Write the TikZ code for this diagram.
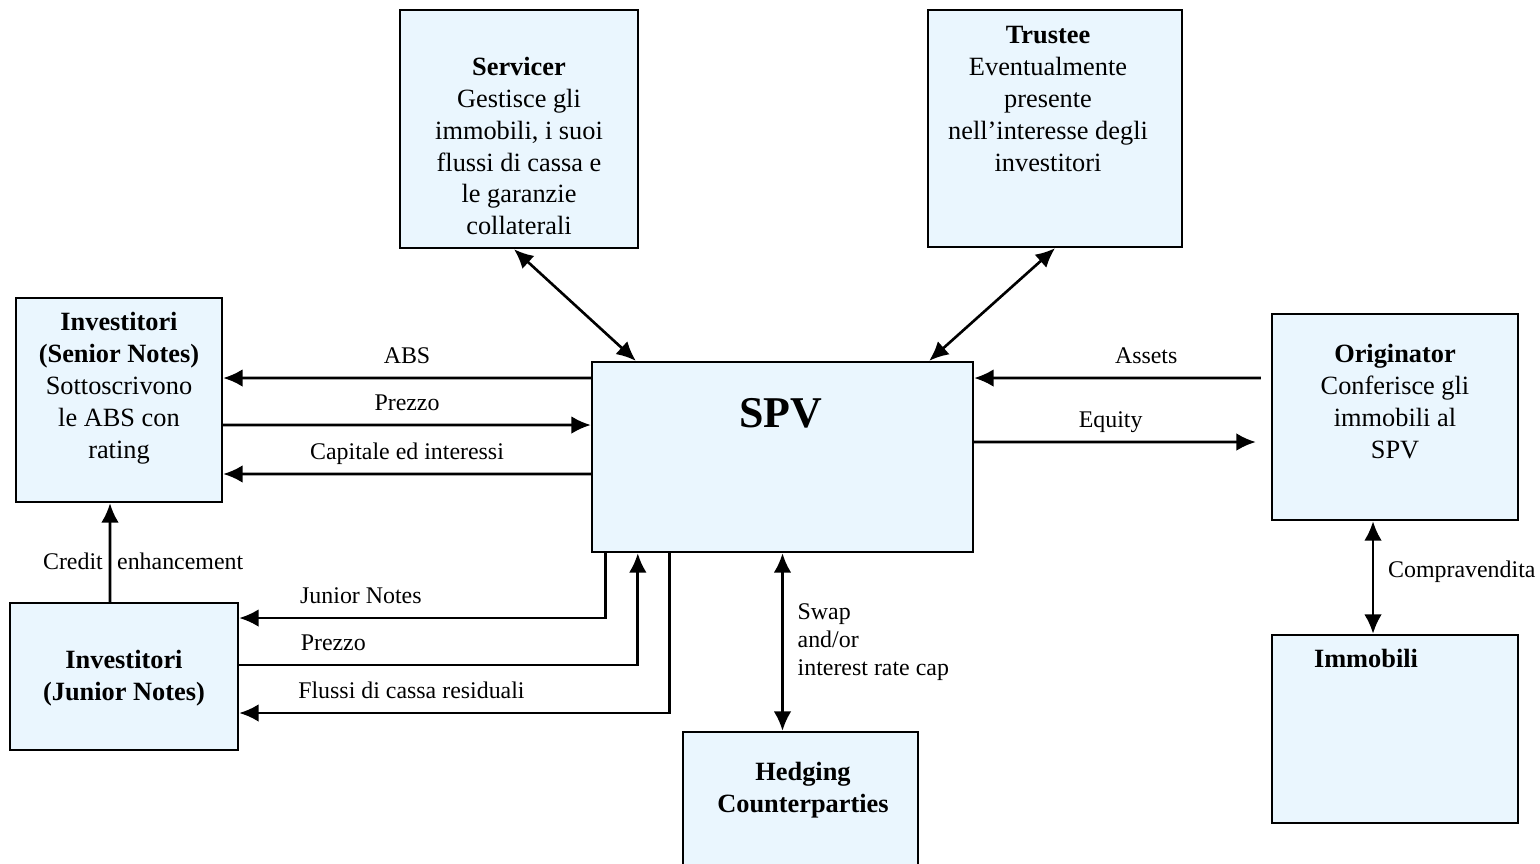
\documentclass[tikz,border=0pt]{standalone}
\usepackage{fontspec}
\setmainfont{Liberation Serif}
\usepackage{tikz}
\usetikzlibrary{positioning, arrows, arrows.meta}
\definecolor{lightblue}{HTML}{EAF6FE}
\tikzstyle{line} = [draw, -{Latex[length=11pt, width=10pt]}, line width=1.5pt]
\tikzstyle{dline} = [draw, {Latex[length=11pt, width=10pt]}-{Latex[length=11pt, width=10pt]}, line width=1.5pt]
\tikzstyle{block} = [rectangle, draw, fill=lightblue, line width=1.4pt, inner sep=0pt]
\tikzstyle{blocktext} = [align=center, font=\fontsize{15pt}{18.2pt}\selectfont]
\tikzstyle{lbl} = [font=\fontsize{13.6pt}{16pt}\selectfont]
\tikzstyle{toplbl} = [lbl, anchor=base, yshift=8.5pt]

\begin{document}
\begin{tikzpicture}[x=0.02cm, y=-0.02cm]
      \clip (0,0) rectangle (1540,863);
      % Place boxes
      \node [block, minimum width=4.76cm, minimum height=4.76cm] (servicer) at (519,129) {};
      \node [block, minimum width=5.08cm, minimum height=4.74cm] (trustee) at (1055,128.5) {};
      \node [block, minimum width=4.12cm, minimum height=4.08cm] (senior) at (119,400) {};
      \node [block, minimum width=7.62cm, minimum height=3.8cm] (spv) at (782.5,457) {};
      \node [block, minimum width=4.92cm, minimum height=4.12cm] (orig) at (1395,417) {};
      \node [block, minimum width=4.92cm, minimum height=3.76cm] (immob) at (1395,729) {};
      \node [block, minimum width=4.56cm, minimum height=2.94cm] (junior) at (124,676.5) {};
      \node [block, minimum width=4.7cm, minimum height=3.36cm] (hedging) at (800.5,816) {};
      % Place box texts
      \node [blocktext] (servicer-t) at (519,146) {\textbf{Servicer}\\Gestisce gli\\immobili, i suoi\\flussi di cassa e\\le garanzie\\collaterali};
      \node [blocktext] (trustee-t) at (1048,99) {\textbf{Trustee}\\Eventualmente\\presente\\nell’interesse degli\\investitori};
      \node [blocktext] (senior-t) at (119,388) {\textbf{Investitori}\\\textbf{(Senior Notes)}\\Sottoscrivono\\le ABS con\\rating};
      \node [blocktext, font=\fontsize{25pt}{30pt}\selectfont\bfseries] (spv-t) at (781,413) {SPV};
      \node [blocktext] (orig-t) at (1395,402) {\textbf{Originator}\\Conferisce gli\\immobili al\\SPV};
      \node [blocktext, font=\fontsize{15pt}{18.2pt}\selectfont\bfseries] (immob-t) at (1366,658) {Immobili};
      \node [blocktext, font=\fontsize{15pt}{18.2pt}\selectfont\bfseries] (junior-t) at (124,678) {Investitori\\(Junior Notes)};
      \node [blocktext, font=\fontsize{15pt}{18.2pt}\selectfont\bfseries] (hedging-t) at (803,790) {Hedging\\Counterparties};
      % Draw top edges
      \path [dline] ([xshift=-0.1cm]servicer.south) -- ([xshift=0.9cm]spv.north west);
      \path [dline] (trustee.south) -- ([xshift=-0.9cm]spv.north east);
      % Draw senior edges
      \path [line] ([yshift=1.58cm]spv.west) -- node[toplbl] {ABS} ([yshift=0.44cm]senior.east);
      \path [line] ([yshift=-0.5cm]senior.east) -- node[toplbl] {Prezzo} ([yshift=0.64cm]spv.west);
      \path [line] ([yshift=-0.34cm]spv.west) -- node[toplbl] {Capitale ed interessi} ([yshift=-1.48cm]senior.east);
      \path [line] ([xshift=-0.28cm]junior.north) -- node[lbl, left, pos=0.41] {Credit} node[lbl, right, pos=0.41] {enhancement} ([xshift=-0.18cm]senior.south);
      % Draw junior edges
      \path [line] ([xshift=0.3cm]spv.south west) |- node[toplbl, pos=0.834] {Junior Notes} ([yshift=1.17cm]junior.east);
      \path [line] ([yshift=0.23cm]junior.east) -| node[toplbl, pos=0.118] {Prezzo} ([xshift=0.94cm]spv.south west);
      \path [line] ([xshift=1.58cm]spv.south west) |- node[toplbl, pos=0.8] {Flussi di cassa residuali} ([yshift=-0.73cm]junior.east);
      % Draw originator and hedging edges
      \path [line, shorten <=0.2cm] ([yshift=0.78cm]orig.west) -- node[toplbl, pos=0.42] {Assets} ([yshift=1.58cm]spv.east);
      \path [line, shorten >=0.3cm] ([yshift=0.3cm]spv.east) -- node[toplbl, pos=0.46] {Equity} ([yshift=-0.5cm]orig.west);
      \path [dline] ([xshift=-0.44cm]orig.south) -- node[lbl, right=0.16cm, pos=0.45] {Compravendita} ([xshift=-0.44cm]immob.north);
      \path [dline] (spv.south) -- node[lbl, right=0.16cm, align=left] {Swap\\and/or\\interest rate cap} (spv.south |- hedging.north);
  \end{tikzpicture}
\end{document}
